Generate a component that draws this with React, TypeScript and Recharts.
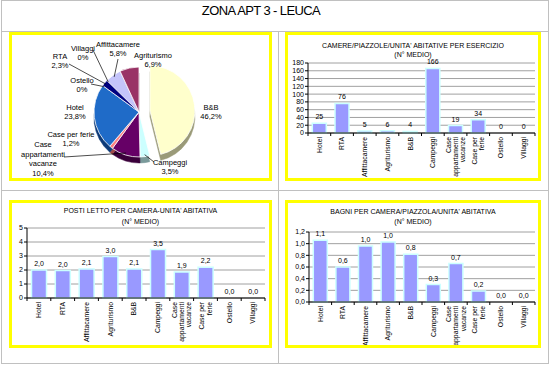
import React from 'react';
import {
  PieChart,
  Pie,
  Cell,
  BarChart,
  Bar,
  XAxis,
  YAxis,
  CartesianGrid,
  LabelList,
} from 'recharts';

const FONT = '"Liberation Sans", Arial, Helvetica, sans-serif';

// ---- data ----
const categories = [
  'Hotel',
  'RTA',
  'Affittacamere',
  'Agriturismo',
  'B&B',
  'Campeggi',
  'Case appartamenti vacanze',
  'Case per ferie',
  'Ostello',
  'Villaggi',
];
const camerePerEsercizio = [25, 76, 5, 6, 4, 166, 19, 34, 0, 0];
const postiLettoPerCamera = [2.0, 1.96, 2.08, 2.96, 2.07, 3.46, 1.86, 2.2, 0, 0];
const bagniPerCamera = [1.06, 0.6, 0.96, 1.03, 0.82, 0.3, 0.66, 0.19, 0, 0];

const camereTicks = [0, 20, 40, 60, 80, 100, 120, 140, 160, 180];
const postiTicks = [0, 1, 2, 3, 4, 5];
const bagniTicks = [0, 0.2, 0.4, 0.6, 0.8, 1.0, 1.2];

const pieCategories = [
  'Affittacamere',
  'Agriturismo',
  'B&B',
  'Campeggi',
  'Case appartamenti vacanze',
  'Case per ferie',
  'Hotel',
  'Ostello',
  'RTA',
  'Villaggi',
];
const pieShares = [5.8, 6.9, 46.2, 3.5, 10.4, 1.2, 23.8, 0, 2.3, 0];

// ---- styles ----
const pieColors: Record<string, [string, string]> = {
  Affittacamere: ['#C4C4FA', '#7C7CB0'],
  Agriturismo: ['#993366', '#5A1E3C'],
  'B&B': ['#FFFFCC', '#9A9A78'],
  Campeggi: ['#CCFFFF', '#7A9A9A'],
  'Case appartamenti vacanze': ['#660066', '#3A003A'],
  'Case per ferie': ['#FF8080', '#A04848'],
  Hotel: ['#1F6BC8', '#0C3A78'],
  Ostello: ['#B0B0B0', '#707070'],
  RTA: ['#000080', '#00004A'],
  Villaggi: ['#909090', '#606060'],
};

const tickLines: Record<string, string[]> = {
  'Case appartamenti vacanze': ['Case', 'appartamenti', 'vacanze'],
  'Case per ferie': ['Case per', 'ferie'],
};

const pieLabelLines: Record<string, string[]> = {
  'Case appartamenti vacanze': ['Case', 'appartamenti', 'vacanze'],
};

// label placement relative to the pie centre, lead = start of leader line
const pieLabelLayout: Record<string, { dx: number; dy: number; lead?: [number, number] }> = {
  Affittacamere: { dx: -21, dy: -63, lead: [-21, -53] },
  Agriturismo: { dx: 14, dy: -52 },
  'B&B': { dx: 72, dy: 0 },
  Campeggi: { dx: 31, dy: 55, lead: [15, 50] },
  'Case appartamenti vacanze': { dx: -96, dy: 47, lead: [-75, 45] },
  'Case per ferie': { dx: -68, dy: 27 },
  Hotel: { dx: -64, dy: 0 },
  Ostello: { dx: -57, dy: -27, lead: [-48, -28] },
  RTA: { dx: -79, dy: -51, lead: [-70, -48] },
  Villaggi: { dx: -56, dy: -59, lead: [-46, -62] },
};

const RAD = Math.PI / 180;
const fmt = (v: number, d: number) => v.toFixed(d).replace('.', ',');
const fmtPct = (v: number) => (v === 0 ? '0%' : `${fmt(v, 1)}%`);

// ---- pie ----
const PIE_W = 257;
const PIE_H = 143;
const CX = 127;
const CY = 77;
const R = 45;
const DEPTH = 6;
const EXPLODE = 11;

function renderPieLabel(props: any) {
  const { cx, cy, midAngle, name, value } = props;
  const layout = pieLabelLayout[name];
  if (!layout) return null;
  const lines = [...(pieLabelLines[name] ?? [name]), fmtPct(value)];
  const fs = 7.5;
  const lh = 9.5;
  const first = -((lines.length - 1) / 2) * lh + fs * 0.35;
  const ex = cx + (R - 2) * Math.cos(-midAngle * RAD);
  const ey = cy + (R - 2) * Math.sin(-midAngle * RAD);
  return (
    <g>
      {layout.lead && (
        <line
          x1={cx + layout.lead[0]}
          y1={cy + layout.lead[1]}
          x2={ex}
          y2={ey}
          stroke="#000"
          strokeWidth={0.7}
        />
      )}
      <text x={cx + layout.dx} y={cy + layout.dy} textAnchor="middle" fontSize={fs} fill="#000">
        {lines.map((l, i) => (
          <tspan key={i} x={cx + layout.dx} dy={i === 0 ? first : lh}>
            {l}
          </tspan>
        ))}
      </text>
    </g>
  );
}

function PiePanel() {
  const rows = pieCategories.map((name, i) => ({ name, value: pieShares[i] }));
  const total = pieShares.reduce((a, b) => a + b, 0);
  const bb = pieCategories.indexOf('B&B');
  const before = pieShares.slice(0, bb).reduce((a, b) => a + b, 0);
  const startAngle = 90 + (360 * before) / total;
  const endAngle = startAngle - 360;
  const bbMid = 90 - (180 * pieShares[bb]) / total;
  const ox = EXPLODE * Math.cos(bbMid * RAD);
  const oy = -EXPLODE * Math.sin(bbMid * RAD);

  const layer = (key: string, x: number, y: number, depth: boolean, onlyBB: boolean, withLabel: boolean) => (
    <Pie
      key={key}
      data={rows}
      dataKey="value"
      nameKey="name"
      cx={x}
      cy={y}
      outerRadius={R}
      startAngle={startAngle}
      endAngle={endAngle}
      isAnimationActive={false}
      label={withLabel ? renderPieLabel : false}
      labelLine={false}
    >
      {rows.map((r, i) => {
        const visible = onlyBB ? i === bb : i !== bb;
        const c = pieColors[r.name][depth ? 1 : 0];
        return (
          <Cell
            key={r.name}
            fill={visible ? c : 'transparent'}
            stroke={visible ? (depth ? c : '#ffffff') : 'none'}
            strokeWidth={depth ? 0.5 : 0.8}
          />
        );
      })}
    </Pie>
  );

  return (
    <PieChart width={PIE_W} height={PIE_H} margin={{ top: 0, right: 0, bottom: 0, left: 0 }}>
      {layer('d-main', CX, CY + DEPTH, true, false, false)}
      {layer('d-bb', CX + ox, CY + oy + DEPTH, true, true, false)}
      {layer('t-main', CX, CY, false, false, true)}
      {layer('t-bb', CX + ox, CY + oy, false, true, false)}
    </PieChart>
  );
}

// ---- bars ----
function CategoryTick(props: any) {
  const { x, y, payload, index, band, fontSize } = props;
  const lines = tickLines[payload.value] ?? [payload.value];
  const lh = fontSize + 0.6;
  const first = -((lines.length - 1) / 2) * lh + fontSize * 0.35;
  return (
    <g transform={`translate(${x},${y})`}>
      <line x1={-band / 2} y1={0} x2={-band / 2} y2={3} stroke="#000" strokeWidth={1} />
      {index === categories.length - 1 && (
        <line x1={band / 2} y1={0} x2={band / 2} y2={3} stroke="#000" strokeWidth={1} />
      )}
      <text transform="rotate(-90)" textAnchor="end" fontSize={fontSize} fill="#000">
        {lines.map((l, i) => (
          <tspan key={i} x={-4} dy={i === 0 ? first : lh}>
            {l}
          </tspan>
        ))}
      </text>
    </g>
  );
}

type BarPanelProps = {
  x: number;
  y: number;
  w: number;
  h: number;
  title: string;
  values: number[];
  ticks: number[];
  decimals: number;
  tickDecimals: number;
  plotLeft: number;
  plotTop: number;
  plotRight: number;
  titleTop: number;
  titleLine: number;
};

function BarPanel(p: BarPanelProps) {
  const data = categories.map((name, i) => ({ name, value: p.values[i] }));
  const innerW = p.w - 6;
  const innerH = p.h - 6;
  const band = (innerW - p.plotLeft - p.plotRight) / categories.length;
  const max = p.ticks[p.ticks.length - 1];
  return (
    <div
      style={{
        position: 'absolute',
        left: p.x,
        top: p.y,
        width: p.w,
        height: p.h,
        boxSizing: 'border-box',
        border: '3px solid #FFFF00',
        background: '#fff',
      }}
    >
      <div
        style={{
          position: 'absolute',
          left: 0,
          top: p.titleTop,
          width: innerW,
          textAlign: 'center',
          fontSize: 7,
          lineHeight: `${p.titleLine}px`,
          whiteSpace: 'nowrap',
        }}
      >
        {p.title}
        <br />
        (N° MEDIO)
      </div>
      <BarChart
        width={innerW}
        height={innerH}
        data={data}
        margin={{ top: p.plotTop, right: p.plotRight, bottom: 0, left: 2 }}
        barCategoryGap="19%"
      >
        <CartesianGrid vertical={false} stroke="#A0A0A0" />
        <XAxis
          dataKey="name"
          interval={0}
          tickLine={false}
          tickSize={0}
          tickMargin={0}
          axisLine={{ stroke: '#000' }}
          height={innerH - p.plotTop - 70}
          tick={(tp: any) => <CategoryTick {...tp} band={band} fontSize={6.8} />}
        />
        <YAxis
          type="number"
          domain={[0, max]}
          ticks={p.ticks}
          interval={0}
          width={p.plotLeft - 2}
          tickSize={3}
          tickMargin={1}
          axisLine={{ stroke: '#000' }}
          tickLine={{ stroke: '#000' }}
          tick={{ fontSize: 7, fill: '#000' }}
          tickFormatter={(v: number) => fmt(v, p.tickDecimals)}
        />
        <Bar
          dataKey="value"
          fill="#9999FF"
          stroke="#CCFFFF"
          strokeWidth={1.5}
          minPointSize={(v: number) => (v === 0 ? 0.1 : 0)}
          isAnimationActive={false}
        >
          {data.map((d) => (
            <Cell key={d.name} stroke={d.value === 0 ? 'none' : '#CCFFFF'} fill={d.value === 0 ? 'transparent' : '#9999FF'} />
          ))}
          <LabelList
            dataKey="value"
            position="top"
            offset={4}
            fontSize={7}
            fill="#000"
            formatter={(v: any) => fmt(Number(v), p.decimals)}
          />
        </Bar>
      </BarChart>
    </div>
  );
}

const App = () => {
  const line = '#C0C0C0';
  return (
    <div
      style={{
        position: 'absolute',
        left: 0,
        top: 0,
        width: 550,
        height: 366,
        background: '#fff',
        fontFamily: FONT,
        color: '#000',
        overflow: 'hidden',
      }}
    >
      {/* frame */}
      <div style={{ position: 'absolute', left: 1, top: 0, width: 548, height: 364, boxSizing: 'border-box', border: `1px solid ${line}` }} />
      <div style={{ position: 'absolute', left: 1, top: 31, width: 548, height: 1, background: line }} />
      <div style={{ position: 'absolute', left: 1, top: 190, width: 548, height: 1, background: line }} />
      <div style={{ position: 'absolute', left: 278, top: 31, width: 1, height: 333, background: line }} />

      <div
        style={{
          position: 'absolute',
          left: 161,
          top: 3,
          width: 200,
          textAlign: 'center',
          fontSize: 13,
          letterSpacing: -0.6,
          lineHeight: '15px',
        }}
      >
        ZONA APT 3 - LEUCA
      </div>

      <div
        style={{
          position: 'absolute',
          left: 9,
          top: 32,
          width: 263,
          height: 149,
          boxSizing: 'border-box',
          border: '3px solid #FFFF00',
          background: '#fff',
        }}
      >
        <PiePanel />
      </div>

      <BarPanel
        x={285}
        y={32}
        w={256}
        h={149}
        title="CAMERE/PIAZZOLE/UNITA' ABITATIVE PER ESERCIZIO"
        values={camerePerEsercizio}
        ticks={camereTicks}
        decimals={0}
        tickDecimals={0}
        plotLeft={20}
        plotTop={28}
        plotRight={3}
        titleTop={6}
        titleLine={9}
      />
      <BarPanel
        x={9}
        y={200}
        w={263}
        h={148}
        title="POSTI LETTO PER CAMERA-UNITA' ABITATIVA"
        values={postiLettoPerCamera}
        ticks={postiTicks}
        decimals={1}
        tickDecimals={0}
        plotLeft={15}
        plotTop={25}
        plotRight={4}
        titleTop={2}
        titleLine={11}
      />
      <BarPanel
        x={285}
        y={200}
        w={256}
        h={148}
        title="BAGNI PER CAMERA/PIAZZOLA/UNITA' ABITATIVA"
        values={bagniPerCamera}
        ticks={bagniTicks}
        decimals={1}
        tickDecimals={1}
        plotLeft={21}
        plotTop={29}
        plotRight={3}
        titleTop={4}
        titleLine={10}
      />
    </div>
  );
};

export default App;
